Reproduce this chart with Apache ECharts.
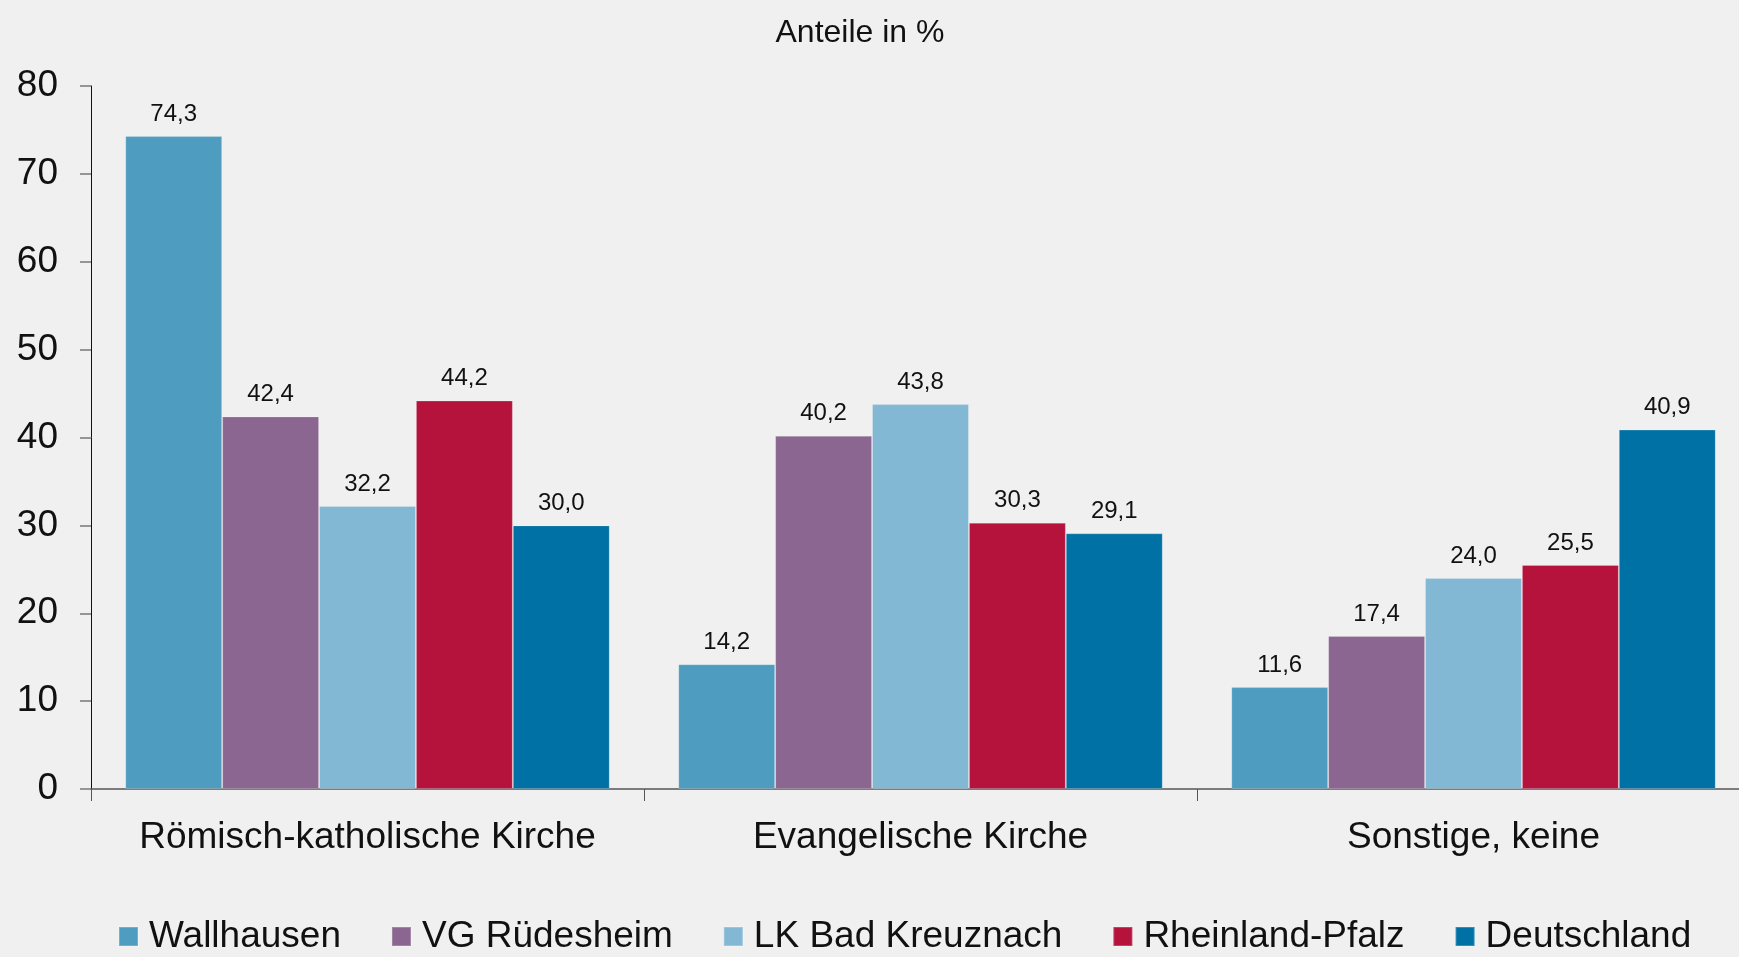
<!DOCTYPE html>
<html>
<head>
<meta charset="utf-8">
<title>Religionszugehörigkeit</title>
<script src="https://cdn.jsdelivr.net/npm/echarts@6/dist/echarts.min.js"></script>
<style>
  html, body { margin: 0; padding: 0; background: #eff0ef; }
  #chart { width: 1739px; height: 957px; }
</style>
</head>
<body>
<div id="chart"></div>
<script>
// Kategorien (x-Achse)
const categories = ['Römisch-katholische Kirche', 'Evangelische Kirche', 'Sonstige, keine']

// Anteile in % je Gebiet
const wallhausen = [74.3, 14.2, 11.6]
const vgRuedesheim = [42.4, 40.2, 17.4]
const lkBadKreuznach = [32.2, 43.8, 24.0]
const rheinlandPfalz = [44.2, 30.3, 25.5]
const deutschland = [30.0, 29.1, 40.9]

const seriesNames = ['Wallhausen', 'VG Rüdesheim', 'LK Bad Kreuznach', 'Rheinland-Pfalz', 'Deutschland']
const seriesData = [wallhausen, vgRuedesheim, lkBadKreuznach, rheinlandPfalz, deutschland]
const colors = ['#4e9dc0', '#8b6690', '#83b8d5', '#b5133c', '#0071a4']

const yTicks = [0, 10, 20, 30, 40, 50, 60, 70, 80]

const font = '"Liberation Sans", Arial, sans-serif'

const chart = echarts.init(document.getElementById('chart'))

chart.setOption({
  backgroundColor: '#eff0ef',
  animation: false,
  color: colors,
  textStyle: { fontFamily: font },
  title: {
    text: 'Anteile in %',
    left: 855,
    textAlign: 'center',
    top: 12,
    textStyle: {
      color: '#111',
      fontFamily: font,
      fontWeight: 'normal',
      fontSize: 32
    }
  },
  grid: {
    left: 91,
    top: 86,
    width: 1659,
    height: 703,
    containLabel: false,
    outerBoundsMode: 'none'
  },
  legend: {
    data: seriesNames,
    left: 118,
    top: 918,
    padding: 0,
    itemWidth: 19,
    itemHeight: 19,
    itemGap: 50,
    icon: 'rect',
    textStyle: {
      color: '#111',
      fontFamily: font,
      fontSize: 37,
      padding: [0, 0, 0, 6]
    }
  },
  xAxis: {
    type: 'category',
    data: categories,
    axisLine: { lineStyle: { color: '#555', width: 1.5 } },
    axisTick: { show: true, interval: 0, length: 12, lineStyle: { color: '#555' } },
    axisLabel: {
      interval: 0,
      color: '#111',
      fontFamily: font,
      fontSize: 37,
      margin: 30
    }
  },
  yAxis: {
    type: 'value',
    min: yTicks[0],
    max: yTicks[yTicks.length - 1],
    interval: 10,
    splitLine: { show: false },
    axisLine: { show: true, lineStyle: { color: '#111', width: 1 } },
    axisTick: { show: true, length: 11, lineStyle: { color: '#777', width: 1.5 } },
    axisLabel: {
      color: '#111',
      fontFamily: font,
      fontSize: 37,
      margin: 33
    }
  },
  series: seriesData.map(function (vals, i) {
    return {
      name: seriesNames[i],
      type: 'bar',
      data: vals,
      barGap: '0%',
      barCategoryGap: '12.4%',
      itemStyle: {
        color: colors[i],
        borderColor: 'rgba(255,255,255,0.2)',
        borderWidth: 1
      },
      label: {
        show: true,
        position: 'top',
        distance: 10,
        color: '#111',
        fontFamily: font,
        fontSize: 24,
        formatter: function (p) {
          return p.value.toFixed(1).replace('.', ',')
        }
      }
    }
  })
})
</script>
</body>
</html>
